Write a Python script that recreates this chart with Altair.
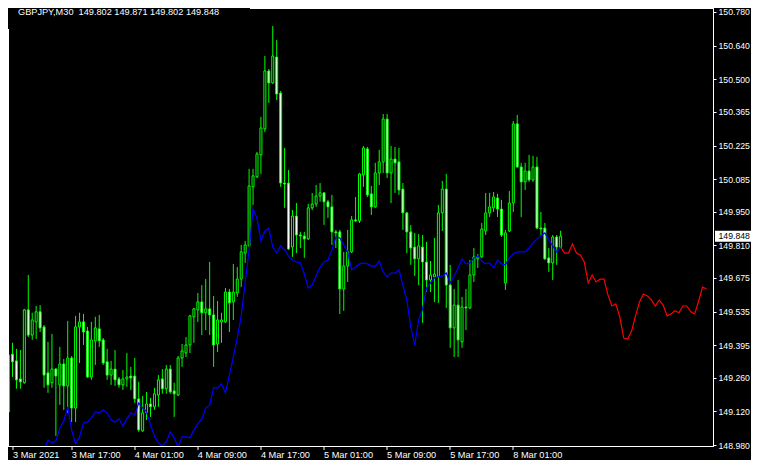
import altair as alt
import pandas as pd

# ---------------- data ----------------
symbol = "GBPJPY,M30"
tick_bars = [0, 16, 32, 48, 64, 80, 96, 112, 128]
tick_labels = ["3 Mar 2021", "3 Mar 17:00", "4 Mar 01:00", "4 Mar 09:00", "4 Mar 17:00",
               "5 Mar 01:00", "5 Mar 09:00", "5 Mar 17:00", "8 Mar 01:00"]
price_ticks = [150.780, 150.640, 150.500, 150.365, 150.225, 150.085, 149.950,
               149.810, 149.675, 149.535, 149.395, 149.260, 149.120, 148.980]

opens = [149.118, 149.358, 149.330, 149.255, 149.239, 149.542, 149.437, 149.492, 149.534, 149.471,
         149.280, 149.239, 149.296, 149.230, 149.317, 149.226, 149.342, 149.134, 149.471, 149.492,
         149.454, 149.263, 149.413, 149.463, 149.417, 149.326, 149.271, 149.296, 149.255, 149.230,
         149.255, 149.267, 149.267, 149.172, 149.039, 149.114, 149.151, 149.139, 149.188, 149.255,
         149.214, 149.296, 149.205, 149.188, 149.342, 149.363, 149.396, 149.513, 149.542, 149.575,
         149.530, 149.546, 149.521, 149.400, 149.492, 149.492, 149.616, 149.575, 149.612, 149.670,
         149.778, 149.808, 150.053, 150.095, 150.186, 150.294, 150.535, 150.485, 150.593, 150.443,
         150.069, 150.069, 149.803, 149.932, 149.853, 149.849, 149.837, 149.966, 149.982, 150.015,
         150.028, 149.991, 149.970, 149.866, 149.866, 149.629, 149.724, 149.783, 149.916, 149.912,
         150.103, 150.211, 150.024, 149.970, 150.111, 150.157, 150.335, 150.111, 150.169, 150.157,
         150.044, 149.945, 149.866, 149.803, 149.754, 149.803, 149.741, 149.666, 149.679, 149.679,
         149.945, 150.044, 149.645, 149.467, 149.562, 149.409, 149.554, 149.550, 149.687, 149.754,
         149.762, 149.870, 149.945, 149.966, 150.007, 149.961, 149.654, 149.870, 149.986, 150.315,
         150.136, 150.074, 150.119, 150.082, 150.136, 149.882, 149.882, 149.758, 149.737, 149.845,
         149.802]
highs = [149.405, 149.405, 149.380, 149.375, 149.546, 149.687, 149.530, 149.558, 149.562, 149.479,
         149.409, 149.442, 149.301, 149.388, 149.338, 149.496, 149.350, 149.517, 149.530, 149.525,
         149.471, 149.492, 149.513, 149.521, 149.425, 149.380, 149.330, 149.375, 149.263, 149.292,
         149.363, 149.305, 149.342, 149.243, 149.184, 149.201, 149.176, 149.218, 149.271, 149.296,
         149.313, 149.313, 149.239, 149.350, 149.400, 149.429, 149.521, 149.550, 149.612, 149.645,
         149.670, 149.741, 149.600, 149.579, 149.530, 149.633, 149.629, 149.733, 149.720, 149.812,
         149.828, 150.128, 150.128, 150.198, 150.344, 150.597, 150.543, 150.722, 150.664, 150.452,
         150.215, 150.123, 149.957, 149.986, 149.866, 149.866, 149.982, 150.028, 150.061, 150.069,
         150.032, 149.999, 150.020, 149.874, 149.874, 149.783, 149.874, 149.932, 150.011, 150.111,
         150.223, 150.219, 150.057, 150.153, 150.207, 150.356, 150.356, 150.223, 150.219, 150.215,
         150.069, 149.949, 149.895, 149.862, 149.857, 149.853, 149.824, 149.745, 149.841, 149.978,
         150.078, 150.107, 149.729, 149.629, 149.666, 149.596, 149.629, 149.749, 149.799, 149.774,
         149.903, 150.028, 150.028, 150.032, 150.024, 149.999, 149.874, 150.036, 150.327, 150.352,
         150.153, 150.153, 150.186, 150.182, 150.178, 149.949, 149.903, 149.799, 149.853, 149.853,
         149.871]
lows = [149.072, 149.263, 149.214, 149.214, 149.235, 149.429, 149.417, 149.421, 149.450, 149.218,
        149.197, 149.218, 149.018, 149.147, 149.126, 149.114, 149.076, 149.076, 149.321, 149.396,
        149.259, 149.251, 149.313, 149.388, 149.313, 149.251, 149.230, 149.226, 149.218, 149.209,
        149.222, 149.209, 149.155, 149.035, 149.035, 149.084, 149.097, 149.126, 149.139, 149.193,
        149.193, 149.193, 149.097, 149.184, 149.305, 149.346, 149.363, 149.405, 149.492, 149.437,
        149.458, 149.437, 149.305, 149.367, 149.405, 149.488, 149.450, 149.500, 149.596, 149.637,
        149.737, 149.804, 149.978, 150.090, 150.107, 150.281, 150.402, 150.481, 150.414, 150.053,
        149.966, 149.791, 149.762, 149.778, 149.799, 149.758, 149.832, 149.957, 149.970, 149.991,
        149.895, 149.924, 149.812, 149.799, 149.525, 149.538, 149.658, 149.778, 149.907, 149.903,
        150.053, 150.011, 149.936, 149.966, 150.061, 150.111, 150.090, 149.986, 150.028, 150.020,
        149.874, 149.778, 149.729, 149.683, 149.645, 149.488, 149.616, 149.616, 149.575, 149.571,
        149.870, 149.550, 149.384, 149.346, 149.346, 149.384, 149.458, 149.546, 149.658, 149.716,
        149.758, 149.853, 149.928, 149.949, 149.928, 149.845, 149.625, 149.866, 149.949, 150.132,
        149.928, 150.040, 150.074, 150.074, 149.878, 149.853, 149.749, 149.700, 149.666, 149.729,
        149.802]
closes = [149.354, 149.326, 149.251, 149.243, 149.542, 149.437, 149.500, 149.534, 149.467, 149.271,
          149.230, 149.296, 149.267, 149.317, 149.226, 149.342, 149.134, 149.471, 149.492, 149.450,
          149.263, 149.417, 149.467, 149.413, 149.321, 149.271, 149.296, 149.251, 149.230, 149.255,
          149.263, 149.259, 149.172, 149.043, 149.114, 149.151, 149.139, 149.193, 149.251, 149.214,
          149.296, 149.201, 149.193, 149.342, 149.371, 149.396, 149.517, 149.546, 149.575, 149.530,
          149.546, 149.521, 149.396, 149.500, 149.500, 149.616, 149.571, 149.616, 149.670, 149.783,
          149.812, 150.057, 150.099, 150.190, 150.298, 150.535, 150.485, 150.597, 150.439, 150.069,
          150.065, 149.795, 149.932, 149.853, 149.849, 149.837, 149.966, 149.982, 150.015, 150.028,
          149.991, 149.970, 149.866, 149.862, 149.629, 149.724, 149.783, 149.916, 149.912, 150.107,
          150.215, 150.020, 149.970, 150.111, 150.157, 150.335, 150.111, 150.169, 150.153, 150.040,
          149.945, 149.866, 149.799, 149.754, 149.808, 149.741, 149.666, 149.687, 149.691, 149.945,
          150.044, 149.645, 149.467, 149.562, 149.417, 149.554, 149.550, 149.687, 149.762, 149.762,
          149.878, 149.945, 149.970, 150.011, 149.961, 149.853, 149.862, 149.986, 150.315, 150.136,
          150.074, 150.119, 150.082, 150.136, 149.882, 149.878, 149.754, 149.737, 149.845, 149.803,
          149.848]

blue_start = 9
blue_vals = [148.960, 149.001, 148.989, 148.997, 149.051, 149.080, 149.139, 149.043, 148.985, 149.014,
             149.072, 149.076, 149.093, 149.118, 149.114, 149.126, 149.114, 149.084, 149.076, 149.089,
             149.059, 149.089, 149.114, 149.105, 149.155, 149.134, 149.118, 149.064, 149.018, 148.989,
             148.976, 148.993, 149.035, 149.010, 148.972, 149.014, 149.014, 149.010, 149.043, 149.068,
             149.089, 149.134, 149.147, 149.218, 149.218, 149.235, 149.197, 149.271, 149.346, 149.425,
             149.517, 149.654, 149.791, 149.961, 149.924, 149.828, 149.870, 149.882, 149.803, 149.778,
             149.808, 149.791, 149.766, 149.749, 149.741, 149.737, 149.691, 149.633, 149.645, 149.683,
             149.720, 149.741, 149.749, 149.791, 149.845, 149.841, 149.812, 149.783, 149.708, 149.720,
             149.733, 149.737, 149.733, 149.724, 149.724, 149.745, 149.700, 149.679, 149.695, 149.695,
             149.708, 149.645, 149.583, 149.471, 149.396, 149.500, 149.546, 149.633, 149.654, 149.675,
             149.679, 149.683, 149.695, 149.654, 149.683, 149.716, 149.754, 149.733, 149.737, 149.758,
             149.766, 149.745, 149.733, 149.737, 149.716, 149.749, 149.733, 149.729, 149.758, 149.774,
             149.783, 149.783, 149.783, 149.799, 149.820, 149.837, 149.849, 149.862, 149.832, 149.808,
             149.783, 149.803]

red_start = 140
red_vals = [149.803, 149.778, 149.778, 149.816, 149.778, 149.770, 149.741, 149.654, 149.687, 149.658,
            149.670, 149.670, 149.604, 149.558, 149.567, 149.513, 149.425, 149.421, 149.454, 149.517,
            149.575, 149.608, 149.600, 149.583, 149.558, 149.583, 149.562, 149.517, 149.525, 149.538,
            149.530, 149.558, 149.558, 149.534, 149.525, 149.579, 149.637, 149.629]

# ---------------- layout / style ----------------
LIME = "#00FF00"
FONT = "Liberation Sans"
FS = 9.2
FS_Y = 8.7
W, H = 705, 438
bar_px = 4.0
x_min = 1.125
x_max = x_min + W / bar_px
px_per_price = 240.6
y_max = 150.7966
y_min = y_max - H / px_per_price

candles = pd.DataFrame({"bar": list(range(len(opens))), "open": opens, "high": highs,
                        "low": lows, "close": closes})
blue_df = pd.DataFrame({"bar": [blue_start + i for i in range(len(blue_vals))], "value": blue_vals})
red_df = pd.DataFrame({"bar": [red_start + i for i in range(len(red_vals))], "value": red_vals})

x_scale = alt.Scale(domain=[x_min, x_max], nice=False, zero=False)
y_scale = alt.Scale(domain=[y_min, y_max], nice=False, zero=False)

step = tick_bars[1] - tick_bars[0]
labels_js = "[" + ",".join("'" + s + "'" for s in tick_labels) + "]"
x_axis = alt.Axis(values=[max(b, x_min) for b in tick_bars],
                  labelExpr=f"{labels_js}[round(datum.value / {step})]",
                  title=None, grid=False, domain=False, translate=0,
                  tickSize=4, tickColor="white", tickWidth=1,
                  labelColor="white", labelFont=FONT, labelFontSize=FS,
                  labelAlign="left", labelBaseline="top", labelPadding=1,
                  labelOverlap=False, labelFlush=False)
y_axis = alt.Axis(orient="right", values=price_ticks, format=".3f",
                  title=None, grid=False, domain=False,
                  tickSize=3, tickColor="white", tickWidth=1,
                  labelColor="white", labelFont=FONT, labelFontSize=FS_Y,
                  labelAlign="left", labelBaseline="middle", labelPadding=2,
                  labelOverlap=False, labelFlush=False)


def X(field="bar"):
    return alt.X(f"{field}:Q", scale=x_scale, axis=x_axis)


def Y(field):
    return alt.Y(f"{field}:Q", scale=y_scale, axis=y_axis)


wicks = alt.Chart(candles).mark_rule(color=LIME, strokeWidth=1, clip=True).encode(
    x=X(), y=Y("low"), y2="high:Q")
bodies = alt.Chart(candles).mark_bar(size=2, stroke=LIME, strokeWidth=1, clip=True).encode(
    x=X(), y=Y("open"), y2="close:Q",
    fill=alt.condition("datum.close >= datum.open", alt.value("#000000"), alt.value("#FFFFFF")))
blue = alt.Chart(blue_df).mark_line(color="#0000FF", strokeWidth=1.2, clip=True).encode(
    x=X(), y=Y("value"))
red = alt.Chart(red_df).mark_line(color="#FF0000", strokeWidth=1.2, clip=True).encode(
    x=X(), y=Y("value"))

dummy = pd.DataFrame({"d": [0]})
frame_left = alt.Chart(dummy).mark_rule(color="white", strokeWidth=1).encode(
    x=alt.value(0.5), y=alt.value(21), y2=alt.value(H))
frame_top = alt.Chart(dummy).mark_rule(color="white", strokeWidth=1).encode(
    y=alt.value(0.5), x=alt.value(242), x2=alt.value(W + 0.5))
frame_bottom = alt.Chart(dummy).mark_rule(color="white", strokeWidth=1).encode(
    y=alt.value(H + 0.5), x=alt.value(0), x2=alt.value(W + 1))
frame_right = alt.Chart(dummy).mark_rule(color="white", strokeWidth=1).encode(
    x=alt.value(W + 0.5), y=alt.value(0), y2=alt.value(H + 1))

last = closes[-1]
price_df = pd.DataFrame({"price": [last], "label": [f"{last:.3f}"]})
price_box = alt.Chart(price_df).mark_tick(orient="horizontal", color="white", size=40,
                                          thickness=11, opacity=1).encode(
    x=alt.value(727), y=Y("price"))
price_text = alt.Chart(price_df).mark_text(align="left", baseline="middle", color="black",
                                           font=FONT, fontSize=FS_Y).encode(
    x=alt.value(710.5), y=Y("price"), text="label:N")

title_str = symbol + "\u00a0 " + " ".join(f"{v:.3f}" for v in (opens[-1], highs[-1], lows[-1], closes[-1]))
title_df = pd.DataFrame({"t": [title_str]})
title = alt.Chart(title_df).mark_text(align="left", baseline="middle", color="white",
                                      font=FONT, fontSize=FS).encode(
    x=alt.value(10), y=alt.value(4), text="t:N")

chart = alt.layer(wicks, bodies, blue, red, frame_left, frame_top, frame_bottom, frame_right,
                  price_box, price_text, title).properties(
    width=W, height=H, background="black",
    padding={"left": 0, "top": 0, "right": 38, "bottom": 14},
    autosize=alt.AutoSizeParams(type="none"),
).configure_view(stroke=None)

chart.save("out.html", embed_options={"renderer": "svg", "actions": False})
